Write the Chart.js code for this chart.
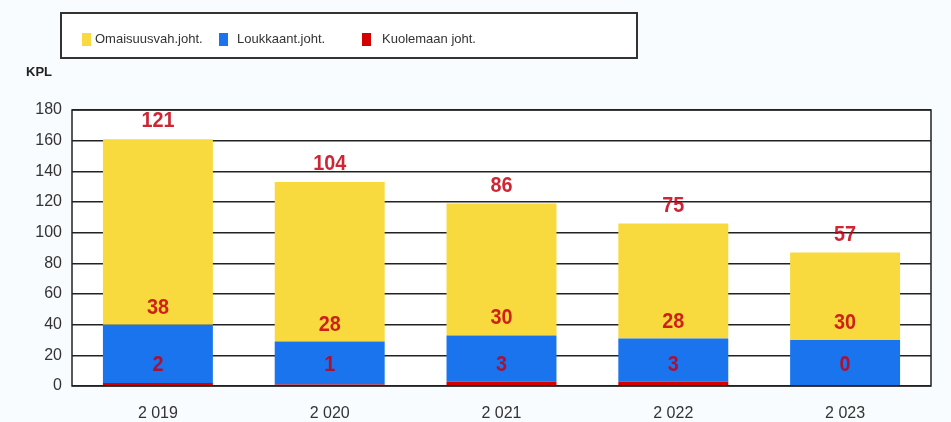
<!DOCTYPE html>
<html>
<head>
<meta charset="utf-8">
<script src="https://cdn.jsdelivr.net/npm/chart.js@4/dist/chart.umd.min.js"></script>
<style>
html,body{margin:0;padding:0;background:#f9fcff;}
#wrap{position:relative;width:951px;height:422px;}
</style>
</head>
<body>
<div id="wrap"><canvas id="c" width="951" height="422"></canvas></div>
<script>
const categories = ["2 019", "2 020", "2 021", "2 022", "2 023"];
const kuolemaan = [2, 1, 3, 3, 0];
const loukkaant = [38, 28, 30, 28, 30];
const omaisuus = [121, 104, 86, 75, 57];
const yTicks = [0, 20, 40, 60, 80, 100, 120, 140, 160, 180];

const LABEL_FONT = 'bold 22px "Liberation Sans", Arial, sans-serif';
const LABEL_COLOR = 'rgba(198,0,16,0.85)';

const frame = {
  id: 'frame',
  beforeDraw(chart) {
    const {ctx, chartArea: a} = chart;
    ctx.save();
    ctx.fillStyle = '#ffffff';
    ctx.fillRect(a.left, a.top, a.right - a.left, a.bottom - a.top);
    ctx.restore();
  },
  afterDraw(chart) {
    const {ctx, chartArea: a} = chart;
    ctx.save();
    ctx.strokeStyle = '#222';
    ctx.lineWidth = 1.5;
    ctx.strokeRect(a.left, a.top, a.right - a.left, a.bottom - a.top);
    // legend box
    ctx.fillStyle = '#ffffff';
    ctx.strokeStyle = '#333';
    ctx.lineWidth = 2;
    ctx.fillRect(61, 13, 576, 45);
    ctx.strokeRect(61, 13, 576, 45);
    const ds = chart.data.datasets;
    const order = [2, 1, 0];
    const xs = [[82, 95], [219, 237], [362, 382]];
    ctx.font = '13px "Liberation Sans", Arial, sans-serif';
    ctx.textBaseline = 'middle';
    ctx.textAlign = 'left';
    order.forEach((di, k) => {
      ctx.fillStyle = ds[di].backgroundColor;
      ctx.fillRect(xs[k][0], 33, 9, 13);
      ctx.fillStyle = '#333';
      ctx.fillText(ds[di].label, xs[k][1], 39);
    });
    // axis unit
    ctx.font = 'bold 13px "Liberation Sans", Arial, sans-serif';
    ctx.fillStyle = '#222';
    ctx.fillText('KPL', 26, 72);
    ctx.restore();
  }
};

function narrowText(ctx, txt, x, y) {
  ctx.save();
  ctx.translate(x, y);
  ctx.scale(0.9, 1);
  ctx.fillText(txt, 0, 0);
  ctx.restore();
}

const valueLabels = {
  id: 'valueLabels',
  afterDatasetsDraw(chart) {
    const {ctx} = chart;
    const yScale = chart.scales.y;
    const base = yScale.getPixelForValue(0);
    ctx.save();
    ctx.font = LABEL_FONT;
    ctx.fillStyle = LABEL_COLOR;
    ctx.textAlign = 'center';
    ctx.textBaseline = 'middle';
    const m0 = chart.getDatasetMeta(0), m1 = chart.getDatasetMeta(1), m2 = chart.getDatasetMeta(2);
    categories.forEach((c, i) => {
      const x = m0.data[i].x;
      narrowText(ctx, String(chart.data.datasets[0].data[i]), x, base - 21);
      narrowText(ctx, String(chart.data.datasets[1].data[i]), x, m1.data[i].y - 17);
      narrowText(ctx, String(chart.data.datasets[2].data[i]), x, m2.data[i].y - 18);
    });
    ctx.restore();
  }
};

new Chart(document.getElementById('c'), {
  type: 'bar',
  data: {
    labels: categories,
    datasets: [
      {label: 'Kuolemaan joht.', data: kuolemaan, backgroundColor: '#d40000'},
      {label: 'Loukkaant.joht.', data: loukkaant, backgroundColor: '#1a74ee'},
      {label: 'Omaisuusvah.joht.', data: omaisuus, backgroundColor: '#f8da3e'}
    ]
  },
  options: {
    responsive: false,
    animation: false,
    layout: {padding: {left: 0, right: 20, top: 110, bottom: 0}},
    datasets: {bar: {categoryPercentage: 1, barPercentage: 0.64, borderWidth: 0}},
    plugins: {legend: {display: false}, tooltip: {enabled: false}},
    scales: {
      x: {
        stacked: true,
        grid: {display: false},
        border: {display: false},
        ticks: {color: '#333', font: {size: 16, family: '"Liberation Sans", Arial, sans-serif'}, padding: 10},
        afterFit(s) { s.height = 36; }
      },
      y: {
        stacked: true,
        min: 0, max: 180,
        afterBuildTicks(s) { s.ticks = yTicks.map(v => ({value: v})); },
        grid: {color: '#222', lineWidth: 1.5, drawTicks: false},
        border: {display: false},
        ticks: {color: '#333', font: {size: 16, family: '"Liberation Sans", Arial, sans-serif'}, padding: 10},
        afterFit(s) { s.width = 72; }
      }
    }
  },
  plugins: [frame, valueLabels]
});
</script>
</body>
</html>
